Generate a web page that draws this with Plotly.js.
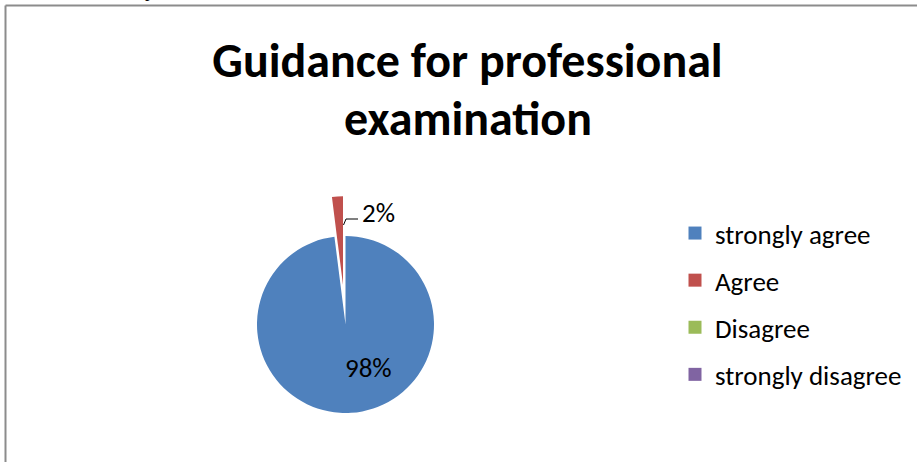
<!DOCTYPE html>
<html>
<head>
<meta charset="utf-8">
<script src="https://cdn.plot.ly/plotly-3.0.1.min.js"></script>
<style>html,body{margin:0;padding:0;background:#fff;}#chart{width:917px;height:462px;}</style>
</head>
<body>
<div id="chart"></div>
<script>
const categories = ['strongly agree', 'Agree', 'Disagree', 'strongly disagree'];
const values = [98, 2, 0, 0];
const colors = ['#4F81BD', '#C0504D', '#9BBB59', '#8064A2'];
const titleLines = ['Guidance for professional', 'examination'];

const W = 917, H = 462;
const FONT = 'Carlito, Calibri, Lato, sans-serif';
const px = x => x / W;
const py = y => 1 - y / H;

const total = values.reduce((a, b) => a + b, 0);
const pct = values.map(v => Math.round(v / total * 100) + '%');

// pie geometry: center (345.5, 324.5), radius ~88.5, pull 0.45
const pullAmt = 0.45;
const cx = 345.5, cy = 324.5, r = 88.5;
const half = r * (1 + pullAmt);

const pie = {
  type: 'pie',
  labels: categories,
  values: values,
  sort: false,
  direction: 'clockwise',
  rotation: 0,
  pull: values.map((v, i) => i === 1 ? pullAmt : 0),
  marker: {colors: colors, line: {width: 0}},
  textinfo: 'none',
  showlegend: false,
  hoverinfo: 'skip',
  domain: {x: [px(cx - half), px(cx + half)], y: [py(cy + half), py(cy - half)]}
};

const legendTraces = categories.map((c, i) => ({
  type: 'scatter',
  mode: 'markers',
  x: [null], y: [null],
  name: c,
  legendgroup: 'g' + i,
  marker: {color: colors[i], symbol: 'square', size: 13, line: {width: 0}},
  showlegend: true,
  hoverinfo: 'skip'
}));

const layout = {
  width: W, height: H,
  margin: {l: 0, r: 0, t: 0, b: 0},
  paper_bgcolor: '#fff',
  plot_bgcolor: '#fff',
  xaxis: {visible: false},
  yaxis: {visible: false},
  hovermode: false,
  title: {
    text: titleLines[0],
    font: {family: FONT, size: 48, color: '#000', weight: 'bold'},
    x: px(467.5), xanchor: 'center',
    y: py(60), yanchor: 'middle'
  },
  annotations: [
    {text: titleLines[1], xref: 'paper', yref: 'paper', x: px(467.5), y: py(118),
     xanchor: 'center', yanchor: 'middle', showarrow: false,
     font: {family: FONT, size: 48, color: '#000', weight: 'bold'}},
    {text: pct[0], xref: 'paper', yref: 'paper', x: px(368.5), y: py(367),
     xanchor: 'center', yanchor: 'middle', showarrow: false,
     font: {family: FONT, size: 27, color: '#000'}},
    {text: pct[1], xref: 'paper', yref: 'paper', x: px(378.5), y: py(212.5),
     xanchor: 'center', yanchor: 'middle', showarrow: false,
     font: {family: FONT, size: 27, color: '#000'}},
    {text: 'p', xref: 'paper', yref: 'paper', x: px(149), y: py(-9),
     xanchor: 'center', yanchor: 'middle', showarrow: false,
     font: {family: 'Liberation Serif, serif', size: 18, color: '#000'}}
  ],
  shapes: [
    {type: 'path', xref: 'paper', yref: 'paper',
     path: 'M' + px(343.5) + ',' + py(225) + ' L' + px(346) + ',' + py(219) + ' L' + px(358) + ',' + py(219),
     line: {color: '#000', width: 1}},
    {type: 'line', xref: 'paper', yref: 'paper', x0: px(5.5), x1: 1, y0: py(5.5), y1: py(5.5),
     line: {color: '#8c8c8c', width: 2}},
    {type: 'line', xref: 'paper', yref: 'paper', x0: px(5.5), x1: px(5.5), y0: py(5.5), y1: 0,
     line: {color: '#8c8c8c', width: 2}}
  ],
  legend: {
    x: px(675), xanchor: 'left',
    y: py(209), yanchor: 'top',
    tracegroupgap: 9,
    itemsizing: 'trace',
    font: {family: FONT, size: 27, color: '#000'},
    bgcolor: 'rgba(0,0,0,0)',
    traceorder: 'grouped'
  }
};

Plotly.newPlot('chart', [pie].concat(legendTraces), layout, {staticPlot: true, displayModeBar: false});
</script>
</body>
</html>
